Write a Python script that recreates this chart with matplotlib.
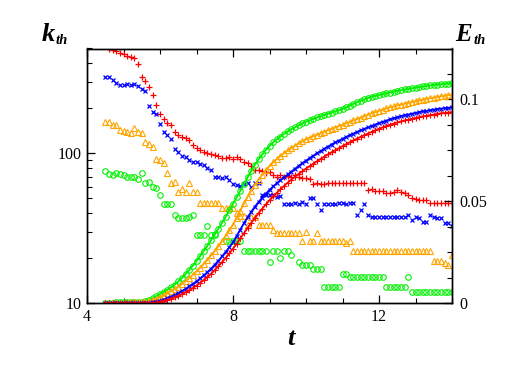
import numpy as np
import matplotlib
matplotlib.use("Agg")
import matplotlib.pyplot as plt
from matplotlib.ticker import FixedLocator, MultipleLocator, NullFormatter, LogLocator

nan = np.nan

# ---------------------------------------------------
# Data (t sampled every 0.1 from 4.5 to 14.0)
# ---------------------------------------------------
t = np.round(np.arange(45, 141) / 10.0, 1)

# k_th (left axis, log)
k_red = [
    nan, 494, 488, 480, 465, 458, 448, 440, 432, 395,
    325, 305, 275, 245, 210, 183, 170, 160, 154, 139,
    133, 128, 126, 122, 114, 108, 105, 102, 101, 99,
    98, 96, 93, 93, 95, 92, 94, 92, 88, 86,
    82, 78, 78, 76, 74, 75, 72, 70, 72, 70,
    71, 70, 72, 70, 68, 68, 67, 62, 63, 62,
    62, 63, 63, 63, 63, 63, 63, 63, 63, 63,
    63, 63, 57, 57.5, 56, 56, 56, 54, 54, 55,
    57, 55, 54, 53, 50, 49.5, 49, 49, 48.5, 47,
    46.5, 46.5, 46.5, 46.5, 46.5, 46.5,
]
k_blue = [
    323, 323, 307, 296, 287, 284, 291, 285, 291, 280,
    270, 259, 207, 188, 184, 157, 139, 132, 125, 107,
    102, 96, 94, 90, 88, 87, 85, 84, 80, 77,
    70, 70, 68, 69, 66, 62, 61.5, 60.5, 62.4, 63.6,
    60, 63, 63, 52.7, 52.7, 52.7, 52.7, 51.4, 52, 46,
    46, 46, 46.4, 46, 47.5, 46, 50, 50, 46, 42,
    46, 46, 46, 46, 46.4, 46.4, 46, 46.4, 46.4, 38.8,
    41.9, 45.9, 38.8, 37.8, 37.8, 37.8, 37.8, 37.8, 37.8, 37.8,
    37.8, 37.8, 37.8, 38.8, 35.9, 37.8, 36.9, 35, 35, 38.8,
    37.5, 36.9, 36.9, 34.1, 34.1, 32.7,
]
k_orange = [
    162, 163, 154, 155, 142, 140, 139, 137, 147, 139,
    137, 119, 116, 110, 91, 90, 86, 74, 63, 64,
    55, 58, 55, 63, 55, 55, 47, 46.4, 46.4, 46.4,
    46.4, 46.4, 43, 43, 43, 43, 40, 38, 38, 33.3,
    37.8, 37.8, 33.3, 33.3, 33.3, 33.3, 31, 29.3, 29.3, 29.3,
    29.3, 29.3, 29.3, 29.3, 26.2, 30, 26.2, 26.2, 29.3, 26.2,
    26.2, 26.2, 26.2, 26.2, 26.2, 26.2, 25.1, 26.2, 22.4, 22.4,
    22.4, 22.4, 22.4, 22.4, 22.4, 22.4, 22.4, 22.4, 22.4, 22.4,
    22.4, 22.4, 22.4, 22.4, 22.4, 22.4, 22.4, 22.4, 22.4, 22.4,
    19, 19, 19, 18.5, 18, 21,
]
k_green = [
    76.6, 72.8, 71.6, 74.3, 72.8, 71.6, 69.9, 69.9, 69.9, 67.1,
    73.6, 63.6, 64.7, 59.9, 58.4, 52.7, 45.9, 45.9, 45.9, 38.8,
    36.9, 36.9, 36.9, 37.8, 38.8, 28.5, 28.5, 28.5, 32.7, 28.5,
    28.5, nan, nan, 26, 26, 26, 26, 26, 22.4, 22.4,
    22.4, 22.4, 22.4, 22.4, 22.4, 18.9, 22.4, 22.4, 20, 22.4,
    22.4, 21, nan, 18.9, 18, 18, 18, 16.9, 16.9, 16.9,
    12.9, 12.9, 12.9, 12.9, 12.9, 15.8, 15.8, 14.9, 14.9, 14.9,
    14.9, 14.9, 14.9, 14.9, 14.9, 14.9, 14.9, 12.9, 12.9, 12.9,
    12.9, 12.9, 12.9, 14.9, 11.9, 11.9, 11.9, 11.9, 11.9, 11.9,
    11.9, 11.9, 11.9, 11.9, 11.9, 11.9,
]

# E_th (right axis, linear)
E_green = [
    0.0003, 0.0003, 0.0003, 0.0004, 0.0004, 0.0004, 0.0005, 0.0005, 0.0006, 0.0007,
    0.0008, 0.0010, 0.0015, 0.0025, 0.0035, 0.0046, 0.0055, 0.0066, 0.0078, 0.0092,
    0.0107, 0.0124, 0.0143, 0.0163, 0.0185, 0.0208, 0.0232, 0.0257, 0.0283, 0.0310,
    0.0338, 0.0366, 0.0395, 0.0425, 0.0456, 0.0488, 0.0520, 0.0552, 0.0585, 0.0618,
    0.0650, 0.0680, 0.0706, 0.0730, 0.0752, 0.0771, 0.0789, 0.0804, 0.0818, 0.0831,
    0.0843, 0.0854, 0.0864, 0.0874, 0.0883, 0.0891, 0.0898, 0.0905, 0.0912, 0.0918,
    0.0924, 0.0930, 0.0936, 0.0942, 0.0947, 0.0954, 0.0962, 0.0970, 0.0979, 0.0987,
    0.0994, 0.1001, 0.1007, 0.1013, 0.1018, 0.1022, 0.1026, 0.1030, 0.1034, 0.1038,
    0.1042, 0.1045, 0.1049, 0.1052, 0.1055, 0.1058, 0.1061, 0.1064, 0.1066, 0.1069,
    0.1071, 0.1073, 0.1075, 0.1077, 0.1078, 0.1080,
]
E_orange = [
    0.0002, 0.0002, 0.0002, 0.0003, 0.0003, 0.0003, 0.0003, 0.0004, 0.0004, 0.0005,
    0.0006, 0.0007, 0.0010, 0.0015, 0.0022, 0.0030, 0.0039, 0.0049, 0.0059, 0.0070,
    0.0082, 0.0095, 0.0109, 0.0124, 0.0140, 0.0157, 0.0175, 0.0194, 0.0214, 0.0235,
    0.0257, 0.0280, 0.0305, 0.0331, 0.0358, 0.0386, 0.0420, 0.0455, 0.0490, 0.0523,
    0.0553, 0.0581, 0.0607, 0.0631, 0.0653, 0.0673, 0.0691, 0.0708, 0.0723, 0.0737,
    0.0750, 0.0762, 0.0774, 0.0785, 0.0795, 0.0804, 0.0812, 0.0820, 0.0827, 0.0834,
    0.0841, 0.0848, 0.0855, 0.0862, 0.0869, 0.0876, 0.0883, 0.0890, 0.0897, 0.0904,
    0.0911, 0.0918, 0.0925, 0.0932, 0.0938, 0.0944, 0.0950, 0.0956, 0.0961, 0.0966,
    0.0971, 0.0975, 0.0979, 0.0983, 0.0987, 0.0991, 0.0995, 0.0999, 0.1003, 0.1006,
    0.1009, 0.1012, 0.1015, 0.1018, 0.1021, 0.1024,
]
E_blue = [
    0.0001, 0.0001, 0.0001, 0.0001, 0.0001, 0.0001, 0.0001, 0.0002, 0.0002, 0.0002,
    0.0002, 0.0002, 0.0003, 0.0005, 0.0008, 0.0012, 0.0018, 0.0025, 0.0033, 0.0041,
    0.0050, 0.0060, 0.0071, 0.0083, 0.0095, 0.0108, 0.0122, 0.0137, 0.0153, 0.0170,
    0.0189, 0.0209, 0.0230, 0.0252, 0.0275, 0.0299, 0.0330, 0.0362, 0.0393, 0.0422,
    0.0449, 0.0474, 0.0497, 0.0518, 0.0538, 0.0556, 0.0573, 0.0589, 0.0604, 0.0618,
    0.0632, 0.0646, 0.0660, 0.0674, 0.0687, 0.0700, 0.0712, 0.0724, 0.0736, 0.0747,
    0.0758, 0.0769, 0.0779, 0.0789, 0.0798, 0.0807, 0.0816, 0.0825, 0.0833, 0.0841,
    0.0849, 0.0856, 0.0863, 0.0870, 0.0877, 0.0884, 0.0890, 0.0896, 0.0902, 0.0907,
    0.0912, 0.0917, 0.0922, 0.0926, 0.0930, 0.0934, 0.0938, 0.0941, 0.0944, 0.0947,
    0.0950, 0.0953, 0.0955, 0.0957, 0.0959, 0.0961,
]
E_red = [
    0.0001, 0.0001, 0.0001, 0.0001, 0.0001, 0.0001, 0.0001, 0.0001, 0.0001, 0.0001,
    0.0001, 0.0001, 0.0001, 0.0002, 0.0004, 0.0007, 0.0011, 0.0016, 0.0022, 0.0029,
    0.0036, 0.0045, 0.0054, 0.0064, 0.0075, 0.0087, 0.0100, 0.0114, 0.0129, 0.0145,
    0.0163, 0.0182, 0.0202, 0.0223, 0.0245, 0.0268, 0.0292, 0.0318, 0.0344, 0.0370,
    0.0395, 0.0419, 0.0442, 0.0464, 0.0485, 0.0505, 0.0524, 0.0542, 0.0559, 0.0576,
    0.0592, 0.0607, 0.0621, 0.0635, 0.0648, 0.0661, 0.0673, 0.0685, 0.0697, 0.0708,
    0.0719, 0.0730, 0.0741, 0.0751, 0.0761, 0.0771, 0.0781, 0.0790, 0.0799, 0.0808,
    0.0817, 0.0825, 0.0833, 0.0841, 0.0849, 0.0856, 0.0863, 0.0870, 0.0876, 0.0882,
    0.0887, 0.0892, 0.0897, 0.0901, 0.0905, 0.0909, 0.0913, 0.0917, 0.0920, 0.0923,
    0.0926, 0.0929, 0.0932, 0.0934, 0.0936, 0.0938,
]

RED, BLUE, ORANGE, GREEN = "#ff0000", "#0000ff", "#ffa500", "#00f000"
SERIF = "Liberation Serif"

plt.rcParams["font.family"] = SERIF

# ---------------------------------------------------
# Figure
# ---------------------------------------------------
fig = plt.figure(figsize=(5.18, 3.67), dpi=100)
ax = fig.add_axes([87 / 518, 1 - 303.3 / 367, (452 - 87) / 518, (303.3 - 48.5) / 367])
ax2 = ax.twinx()

# k_th scatter (left, log)
ax.plot(t, k_red, ls="none", marker="+", ms=5, mew=0.9, color=RED)
ax.plot(t, k_blue, ls="none", marker="x", ms=3.2, mew=0.9, color=BLUE)
ax.plot(t, k_orange, ls="none", marker="^", ms=4.5, mew=0.8, mfc="none", color=ORANGE)
ax.plot(t, k_green, ls="none", marker="o", ms=4, mew=0.8, mfc="none", color=GREEN)

# E_th curves (right, linear)
ax2.plot(t, E_green, lw=1.3, marker="o", ms=4, mew=0.8, mfc="none", color=GREEN)
ax2.plot(t, E_orange, lw=1.3, marker="^", ms=4, mew=0.8, mfc="none", color=ORANGE)
ax2.plot(t, E_blue, lw=1.3, marker="x", ms=3, mew=0.8, color=BLUE)
ax2.plot(t, E_red, lw=1.3, marker="+", ms=4, mew=0.8, color=RED)

# axes ranges / ticks
ax.set_xlim(4, 14)
ax.set_yscale("log")
ax.set_ylim(10, 500)
ax2.set_ylim(0, 0.125)

ax.xaxis.set_major_locator(FixedLocator([4, 8, 12]))
ax.xaxis.set_minor_locator(MultipleLocator(1))
ax.yaxis.set_major_locator(FixedLocator([10, 100]))
ax.yaxis.set_minor_locator(LogLocator(base=10, subs=np.arange(2, 10)))
ax.yaxis.set_minor_formatter(NullFormatter())
ax.set_yticklabels(["10", "100"])

ax2.yaxis.set_major_locator(FixedLocator([0, 0.05, 0.1]))
ax2.yaxis.set_minor_locator(MultipleLocator(0.0125))
ax2.set_yticklabels(["0", "0.05", "0.1"])

ax.tick_params(which="both", direction="in", top=True, right=False, labelsize=11.5, pad=4)
ax.tick_params(which="major", length=6, width=0.9)
ax.tick_params(which="minor", length=3.5, width=0.8)
ax2.tick_params(which="both", direction="in", labelsize=11.5, pad=5)
ax2.tick_params(which="major", length=6, width=0.9)
ax2.tick_params(which="minor", length=3.5, width=0.8)

for a in (ax, ax2):
    for s in a.spines.values():
        s.set_linewidth(1.0)

# axis titles
lab = dict(fontfamily=SERIF, fontweight="bold", fontstyle="italic", va="baseline")
fig.text(41.5 / 518, 1 - 40.7 / 367, "k", fontsize=19, **lab)
fig.text(55.5 / 518, 1 - 43.8 / 367, "th", fontsize=10.5, **lab)
fig.text(455.5 / 518, 1 - 40.7 / 367, "E", fontsize=18, **lab)
fig.text(474 / 518, 1 - 43.8 / 367, "th", fontsize=10.5, **lab)
fig.text(291 / 518, 1 - 345 / 367, "t", fontsize=19, ha="center", **lab)

fig.savefig("out.png", dpi=100)
